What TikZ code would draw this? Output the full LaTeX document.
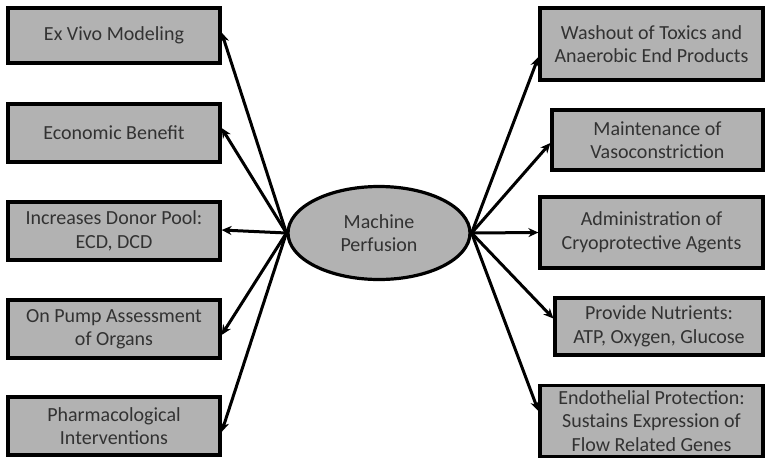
\documentclass[tikz,border=0pt]{standalone}
\usepackage{fontspec}
\setmainfont{Carlito}
\usetikzlibrary{arrows.meta,positioning,shapes.geometric}

\definecolor{boxgray}{RGB}{178,178,178}
\definecolor{txtgray}{RGB}{50,50,50}

\begin{document}
\begin{tikzpicture}[
    x=1pt, y=-1pt,
    item/.style={rectangle, draw=black, line width=3.2pt, fill=boxgray, text=txtgray, align=center, inner sep=0pt, font=\fontsize{20}{23.5}\selectfont},
    hub/.style={ellipse, draw=black, line width=3.2pt, fill=boxgray, text=txtgray, align=center, inner sep=0pt, minimum width=182pt, minimum height=93pt, font=\fontsize{20}{23.5}\selectfont},
    link/.style={->, line width=3pt},
    >={Stealth[length=10pt, width=9pt]}
]
\useasboundingbox (0,0) rectangle (766,458);

% centre
\node[hub] (mp) at (379,233) {Machine\\Perfusion};

% left side
\node[item, minimum width=212pt, minimum height=55pt] (exvivo) at (114,35.5) {Ex Vivo Modeling};
\node[item, minimum width=212pt, minimum height=58pt] (econ) at (114,133) {Economic Benefit};
\node[item, minimum width=212pt, minimum height=58pt] (donor) at (114,231) {Increases Donor Pool:\\ECD, DCD};
\node[item, minimum width=212pt, minimum height=58pt] (pump) at (114,329) {On Pump Assessment\\of Organs};
\node[item, minimum width=212pt, minimum height=58pt] (pharma) at (114,426) {Pharmacological\\Interventions};

% right side
\node[item, minimum width=223pt, minimum height=72pt] (wash) at (651.5,44) {Washout of Toxics and\\Anaerobic End Products};
\node[item, minimum width=211pt, minimum height=60pt] (vaso) at (657.5,140) {Maintenance of\\Vasoconstriction};
\node[item, minimum width=223pt, minimum height=71pt] (cryo) at (651.5,232.5) {Administration of\\Cryoprotective Agents};
\node[item, minimum width=208pt, minimum height=57pt] (nutr) at (659,326.5) {Provide Nutrients:\\ATP, Oxygen, Glucose};
\node[item, minimum width=223pt, minimum height=71pt] (endo) at (651.5,421) {Endothelial Protection:\\Sustains Expression of\\Flow Related Genes};

\draw[link] (mp.west) -- ([yshift=3pt]exvivo.east);
\draw[link] (mp.west) -- ([yshift=5pt]econ.east);
\draw[link] (mp.west) -- ([yshift=1pt]donor.east);
\draw[link] (mp.west) -- ([yshift=-6pt]pump.east);
\draw[link] (mp.west) -- ([yshift=-6pt]pharma.east);

\draw[link] (mp.east) -- ([yshift=-13pt]wash.west);
\draw[link] (mp.east) -- ([yshift=-3pt]vaso.west);
\draw[link] (mp.east) -- (cryo.west);
\draw[link] (mp.east) -- ([yshift=8pt]nutr.west);
\draw[link] (mp.east) -- ([yshift=10pt]endo.west);

\end{tikzpicture}
\end{document}
